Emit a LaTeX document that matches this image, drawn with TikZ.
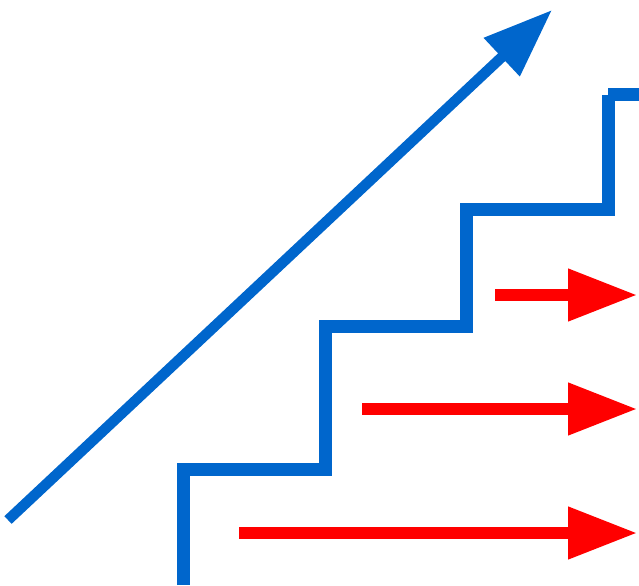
\documentclass[tikz,border=0pt]{standalone}
\usetikzlibrary{arrows.meta}
\definecolor{stairblue}{HTML}{0066CC}
\definecolor{pushred}{HTML}{FF0000}
\tikzset{
  stair/.style={draw=stairblue, line width=7.4pt},
  rise/.style={draw=stairblue, line width=6pt, -{Triangle[length=1.38cm,width=1cm]}},
  push/.style={draw=pushred, line width=6.3pt, -{Triangle[length=1.38cm,width=1cm]}}
}
\begin{document}
\begin{tikzpicture}[x=0.02cm, y=-0.02cm]
  \useasboundingbox (0,0) rectangle (639,585);
  % --- staircase ---
  \draw[stair] (183.5,585) -- (183.5,469.5) -- (325,469.5) -- (325,326)
    -- (466,326) -- (466,209) -- (608.5,209) -- (608.5,95);
  \draw[stair] (608,94) -- (639,94);
  % --- rising arrow ---
  \coordinate (riseStart) at (8,520);
  \coordinate (riseEnd) at (552,10);
  \draw[rise] (riseStart) -- (riseEnd);
  % --- red arrows ---
  \foreach \s/\y in {239/533, 362/409, 495/295} {
    \coordinate (pushStart) at (\s,\y);
    \coordinate (pushEnd) at (637,\y);
    \draw[push] (pushStart) -- (pushEnd);
  }
\end{tikzpicture}
\end{document}
